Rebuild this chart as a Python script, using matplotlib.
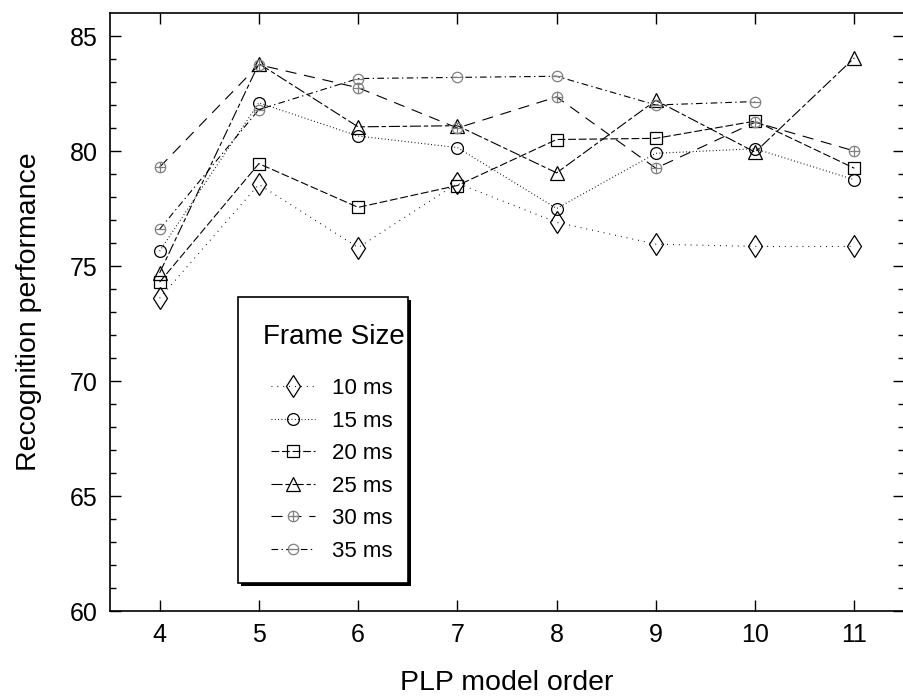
import numpy as np
import matplotlib
matplotlib.use("Agg")
import matplotlib.pyplot as plt
from matplotlib.path import Path
from matplotlib.patches import Rectangle

# --- data ---
model_order = [4, 5, 6, 7, 8, 9, 10, 11]
fs_10 = [73.6, 78.55, 75.8, 78.6, 76.9, 75.95, 75.85, 75.85]
fs_15 = [75.65, 82.1, 80.65, 80.15, 77.5, 79.9, 80.1, 78.75]
fs_20 = [74.3, 79.45, 77.55, 78.5, 80.5, 80.55, 81.3, 79.25]
fs_25 = [74.7, 83.8, 81.05, 81.1, 79.05, 82.2, 79.95, 84.05]
fs_30 = [79.3, 83.75, 82.75, 81.0, 82.35, 79.25, 81.25, 80.0]
fs_35 = [76.6, 81.8, 83.15, 83.2, 83.25, 82.0, 82.15, np.nan]
labels = ["10 ms", "15 ms", "20 ms", "25 ms", "30 ms", "35 ms"]

plt.rcParams["font.family"] = ["Liberation Sans", "DejaVu Sans"]

# circle with a cross / bar inside (gray markers)
circ = Path.unit_circle()
hbar = Path([[-1, 0], [1, 0]], [Path.MOVETO, Path.LINETO])
vbar = Path([[0, -1], [0, 1]], [Path.MOVETO, Path.LINETO])
oplus = Path.make_compound_path(circ, hbar, vbar)
ominus = Path.make_compound_path(circ, hbar)

styles = [
    dict(marker="d", ms=11.5, dashes=(0.8, 4.5), mec="black"),
    dict(marker="o", ms=8.5, dashes=(0.8, 2.2), mec="black"),
    dict(marker="s", ms=8.5, dashes=(7, 2.5), mec="black"),
    dict(marker="^", ms=10, dashes=(10, 2.5, 4, 2.5), mec="black"),
    dict(marker=oplus, ms=7.5, dashes=(10, 7), mec="#808080"),
    dict(marker=ominus, ms=7.5, dashes=(6, 3, 1.2, 3), mec="#808080"),
]
series = [fs_10, fs_15, fs_20, fs_25, fs_30, fs_35]

fig = plt.figure(figsize=(9.04, 6.98), dpi=100)
ax = fig.add_axes([110 / 904, 87 / 698, 794 / 904, 598 / 698])

handles = []
for vals, st, lab in zip(series, styles, labels):
    h, = ax.plot(model_order, vals, color="black", lw=0.8, dashes=st["dashes"],
                 marker=st["marker"], ms=st["ms"], mfc="none", mec=st["mec"],
                 mew=0.9, label=lab)
    handles.append(h)

ax.set_xlim(3.5, 11.5)
ax.set_ylim(60, 86)
ax.set_xticks(model_order)
ax.set_yticks([60, 65, 70, 75, 80, 85])
ax.set_yticks(np.arange(60, 86, 1), minor=True)
ax.tick_params(axis="both", which="major", direction="in", length=8, width=1,
               labelsize=18, top=True, right=True, pad=9)
ax.tick_params(axis="y", which="minor", direction="in", length=4, width=1,
               right=True)
ax.tick_params(axis="x", which="minor", bottom=False, top=False)
ax.spines["right"].set_visible(False)
for s in ["left", "top", "bottom"]:
    ax.spines[s].set_linewidth(1.2)

ax.set_xlabel("PLP model order", fontsize=20.5, labelpad=16)
ax.set_ylabel("Recognition performance", fontsize=20.5, labelpad=20)

# legend box with a drop shadow
x0, y0, w, h = 238 / 904, (698 - 583) / 698, 170 / 904, 286 / 698
fig.patches.append(Rectangle((x0 + 3 / 904, y0 - 3 / 698), w, h, transform=fig.transFigure,
                             facecolor="black", edgecolor="none", zorder=3))
fig.patches.append(Rectangle((x0, y0), w, h, transform=fig.transFigure,
                             facecolor="white", edgecolor="black", lw=1.2, zorder=4))
fig.text(263 / 904, (698 - 337) / 698, "Frame Size", fontsize=20, va="center",
         ha="left", zorder=5)
leg = fig.legend(handles=handles, loc="upper left",
                 bbox_to_anchor=(251 / 904, (698 - 358) / 698),
                 frameon=False, fontsize=16,
                 handlelength=2.0, handletextpad=0.75, labelspacing=0.52)
leg.set_zorder(5)

fig.savefig("out.png", dpi=100)
